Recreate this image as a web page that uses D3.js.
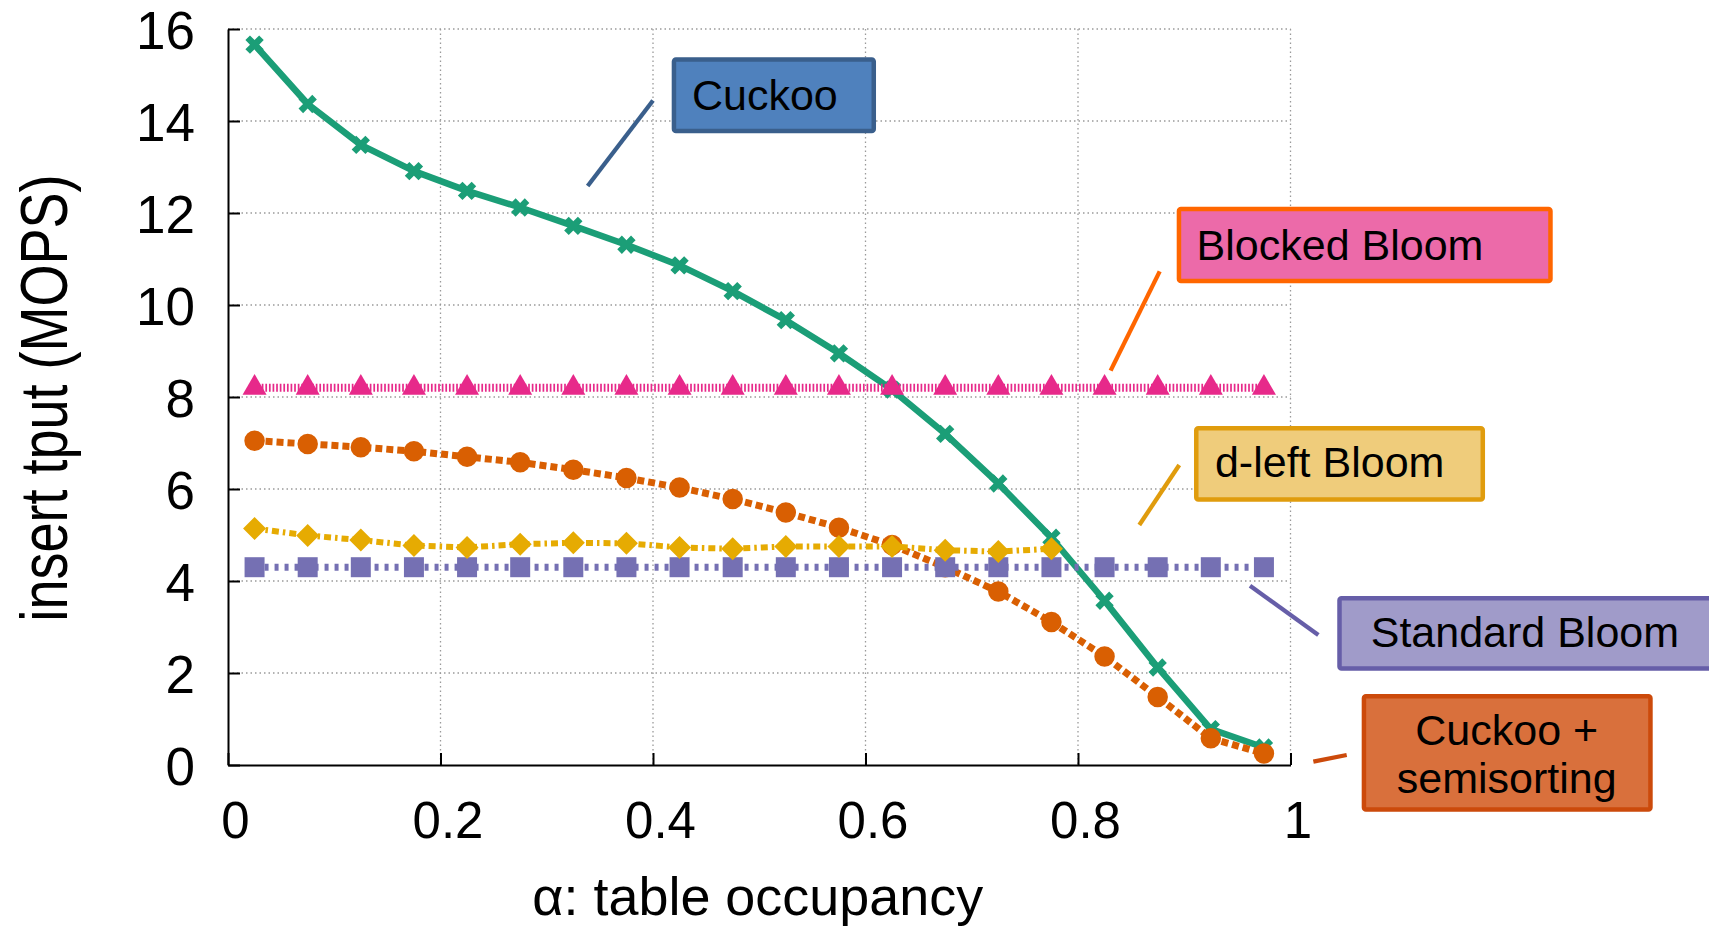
<!DOCTYPE html>
<html><head><meta charset="utf-8">
<script src="https://cdn.jsdelivr.net/npm/d3@7"></script>
<style>
html,body{margin:0;padding:0;background:#fff;}
svg{display:block;background:#fff;}
text{font-family:"Liberation Sans",Arial,Helvetica,sans-serif;fill:#000;}
</style></head><body>
<svg id="chart" width="1709" height="930"></svg>
<script>
// ---------------- data ----------------
const alpha = [0.025,0.075,0.125,0.175,0.225,0.275,0.325,0.375,0.425,0.475,0.525,0.575,0.625,0.675,0.725,0.775,0.825,0.875,0.925,0.975];
const cuckoo = [15.66,14.37,13.48,12.91,12.48,12.12,11.72,11.31,10.86,10.30,9.67,8.95,8.16,7.20,6.12,4.94,3.57,2.12,0.78,0.38];
const semisort = [7.05,6.98,6.91,6.82,6.70,6.58,6.42,6.24,6.03,5.78,5.49,5.16,4.78,4.30,3.77,3.11,2.36,1.48,0.58,0.25];
const standardBloom = [4.3,4.3,4.3,4.3,4.3,4.3,4.3,4.3,4.3,4.3,4.3,4.3,4.3,4.3,4.3,4.3,4.3,4.3,4.3,4.3];
const dleftBloom = [5.14,4.99,4.89,4.77,4.73,4.80,4.83,4.82,4.73,4.70,4.75,4.75,4.75,4.67,4.64,4.70];
const blockedBloom = [8.2,8.2,8.2,8.2,8.2,8.2,8.2,8.2,8.2,8.2,8.2,8.2,8.2,8.2,8.2,8.2,8.2,8.2,8.2,8.2];
const xTicks = [0,0.2,0.4,0.6,0.8,1];
const xTickLabels = ["0","0.2","0.4","0.6","0.8","1"];
const yTicks = [0,2,4,6,8,10,12,14,16];
const yTickLabels = ["0","2","4","6","8","10","12","14","16"];
const xTitle = "\u03b1: table occupancy";
const yTitle = "insert tput (MOPS)";

// ---------------- layout ----------------
const W = 1709, H = 930;
const plot = {left:228, right:1290.5, top:29, bottom:765};
const svg = d3.select("#chart");
const x = d3.scaleLinear().domain([0,1]).range([plot.left, plot.right]);
const y = d3.scaleLinear().domain([0,16]).range([plot.bottom, plot.top]);

// grid
const grid = svg.append("g").attr("stroke","#9a9a9a").attr("stroke-width",1.3).attr("stroke-dasharray","1.5,3");
grid.selectAll("line.h").data(yTicks.filter(d=>d>0)).join("line")
  .attr("x1",plot.left).attr("x2",plot.right).attr("y1",d=>y(d)).attr("y2",d=>y(d));
grid.selectAll("line.v").data(xTicks.filter(d=>d>0)).join("line")
  .attr("y1",plot.top).attr("y2",plot.bottom).attr("x1",d=>x(d)).attr("x2",d=>x(d));

// axes
const yAxis = d3.axisLeft(y).tickValues(yTicks).tickFormat((d,i)=>yTickLabels[i])
  .tickSizeInner(-12).tickSizeOuter(0).tickPadding(33);
const gy = svg.append("g").attr("transform",`translate(${plot.left},0)`).call(yAxis);
gy.select(".domain").attr("stroke","#000").attr("stroke-width",2);
gy.selectAll(".tick line").attr("stroke","#000").attr("stroke-width",2);
gy.selectAll(".tick text").attr("font-size",53).attr("font-family",null).attr("dy","0.37em");

const xAxis = d3.axisBottom(x).tickValues(xTicks).tickFormat((d,i)=>xTickLabels[i])
  .tickSizeInner(-12).tickSizeOuter(0).tickPadding(37);
const gx = svg.append("g").attr("transform",`translate(0,${plot.bottom})`).call(xAxis);
gx.select(".domain").attr("stroke","#000").attr("stroke-width",2);
gx.selectAll(".tick line").attr("stroke","#000").attr("stroke-width",2);
gx.selectAll(".tick text").attr("font-size",51).attr("font-family",null).attr("dx",7);
svg.selectAll(".tick text").attr("fill","#000");

// titles
svg.append("text").attr("x",(plot.left+plot.right)/2-1.5).attr("y",915)
  .attr("text-anchor","middle").attr("font-size",53)
  .attr("textLength",451).attr("lengthAdjust","spacingAndGlyphs").text(xTitle);
svg.append("text").attr("transform","translate(67,398) rotate(-90)")
  .attr("text-anchor","middle").attr("font-size",66)
  .attr("textLength",447).attr("lengthAdjust","spacingAndGlyphs").text(yTitle);

// ---------------- series ----------------
const series = [
  {name:"Cuckoo", values:cuckoo, color:"#1b9e77", width:6.5, dash:null, marker:"x"},
  {name:"Cuckoo + semisorting", values:semisort, color:"#d95f02", width:7, dash:"7,4", marker:"circle"},
  {name:"Standard Bloom", values:standardBloom, color:"#7570b3", width:7, dash:"4,6", marker:"square"},
  {name:"d-left Bloom", values:dleftBloom, color:"#e6ab02", width:6, dash:"7,4,2.5,4", marker:"diamond"},
  {name:"Blocked Bloom", values:blockedBloom, color:"#e7298a", width:8, dash:"1.7,1.9", marker:"triangle"}
];
const markerPath = {
  x: d3.symbol(d3.symbolCross, 210)(),
  circle: d3.symbol(d3.symbolCircle, Math.PI*105)(),
  square: d3.symbol(d3.symbolSquare, 400)(),
  diamond: d3.symbol(d3.symbolSquare, 265)(),
  triangle: d3.symbol(d3.symbolTriangle, 250)()
};
const markerRot = {x:45, circle:0, square:0, diamond:45, triangle:0};

series.forEach(s=>{
  const pts = s.values.map((v,i)=>[alpha[i], v]);
  const line = d3.line().x(d=>x(d[0])).y(d=>y(d[1]));
  const g = svg.append("g");
  g.append("path").attr("d",line(pts)).attr("fill","none")
    .attr("stroke",s.color).attr("stroke-width",s.width)
    .attr("stroke-linejoin","round")
    .attr("stroke-dasharray",s.dash);
  g.selectAll("path.m").data(pts).join("path").attr("class","m")
    .attr("d",markerPath[s.marker])
    .attr("transform",d=>`translate(${x(d[0])},${y(d[1])}) rotate(${markerRot[s.marker]})`)
    .attr("fill",s.color);
});

// ---------------- annotations (data coordinates) ----------------
const annotations = [
  {lines:["Cuckoo"], box:[0.4176,15.385,0.6099,13.733], tx:0.4367, ty:[14.239], anchor:"start",
   leader:[0.4000,14.446,0.3385,12.587], fill:"#4f81bd", stroke:"#3a5f8c"},
  {lines:["Blocked Bloom"], box:[0.8929,12.137,1.2468,10.472], tx:0.9116, ty:[10.978], anchor:"start",
   leader:[0.8769,10.730,0.8307,8.574], fill:"#ec6aa9", stroke:"#ff6600"},
  {lines:["d-left Bloom"], box:[0.9092,7.370,1.1831,5.724], tx:0.9289, ty:[6.267], anchor:"start",
   leader:[0.8953,6.522,0.8577,5.217], fill:"#efcc7b", stroke:"#e09c0d"},
  {lines:["Standard Bloom"], box:[1.0440,3.674,1.4500,2.050], tx:1.0755, ty:[2.572], anchor:"start",
   leader:[0.9619,3.898,1.0262,2.826], fill:"#a09bc9", stroke:"#665ea8"},
  {lines:["Cuckoo +","semisorting"], box:[1.0670,1.543,1.3409,-1.015], tx:1.2035, ty:[0.435,-0.615], anchor:"middle",
   leader:[1.0215,0.0717,1.0529,0.2174], fill:"#d9703c", stroke:"#cc4a0b"}
];
const sw = 4.5;
annotations.forEach(a=>{
  const g = svg.append("g");
  g.append("line").attr("x1",x(a.leader[0])).attr("y1",y(a.leader[1]))
    .attr("x2",x(a.leader[2])).attr("y2",y(a.leader[3]))
    .attr("stroke",a.stroke).attr("stroke-width",4.3);
  const x0 = x(a.box[0]), x1 = x(a.box[2]), y0 = y(a.box[1]), y1 = y(a.box[3]);
  g.append("rect").attr("x",x0+sw/2).attr("y",y0+sw/2)
    .attr("width",x1-x0-sw).attr("height",y1-y0-sw).attr("rx",2)
    .attr("fill",a.fill).attr("stroke",a.stroke).attr("stroke-width",sw);
  a.lines.forEach((t,i)=>{
    g.append("text").attr("x",x(a.tx)).attr("y",y(a.ty[i]))
      .attr("text-anchor",a.anchor).attr("font-size",43).text(t);
  });
});
</script>
</body></html>
